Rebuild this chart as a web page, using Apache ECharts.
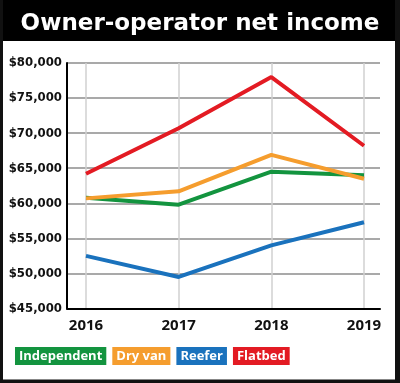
<!DOCTYPE html>
<html><head><meta charset="utf-8">
<script src="https://cdn.jsdelivr.net/npm/echarts@6/dist/echarts.min.js"></script>
<style>html,body{margin:0;padding:0;background:#fff}#c{width:400px;height:383px}</style>
</head><body><div id="c"></div>
<script>
const years = ['2016','2017','2018','2019'];
const independent = [60800, 59800, 64500, 64000];
const dryVan = [60700, 61700, 66900, 63500];
const reefer = [52500, 49500, 54000, 57300];
const flatbed = [64200, 70700, 78000, 68200];
const seriesNames = ['Independent','Dry van','Reefer','Flatbed'];
const colors = ['#13943f','#f59d2e','#1a72bd','#e31b23'];

const chart = echarts.init(document.getElementById('c'));
const lab = "'Liberation Sans Narrow','DejaVu Sans Condensed',sans-serif";
const gTop = 63, gBottom = 74.5;
function mk(name, data, i){
  return {name, type:'line', xAxisIndex:1, yAxisIndex:1, data, symbol:'none',
    lineStyle:{width:4, color:colors[i]}, itemStyle:{color:colors[i]}, z:3};
}
chart.setOption({
  animation:false,
  title:{text:'Owner-operator net income', left:'center', top:8,
    textStyle:{color:'#fff', fontSize:23, fontWeight:'bold', fontFamily:"'DejaVu Sans',sans-serif"}},
  graphic:[
    {type:'rect', shape:{x:0,y:0,width:400,height:41}, style:{fill:'#000'}, z:-1},
    {type:'rect', shape:{x:0,y:0,width:3,height:383}, style:{fill:'#111'}},
    {type:'rect', shape:{x:395,y:0,width:5,height:383}, style:{fill:'#111'}},
    {type:'rect', shape:{x:0,y:379.5,width:400,height:4}, style:{fill:'#111'}}
  ],
  legend:{left:10, top:347, padding:0, itemWidth:0, itemHeight:0, itemGap:1, icon:'rect',
    selectedMode:false,
    textStyle:{color:'#fff', fontWeight:'bold', fontSize:13, lineHeight:13, fontFamily:"'Open Sans',sans-serif", padding:[3,4,2,4]},
    data: seriesNames.map((n,i)=>({name:n, textStyle:{backgroundColor:colors[i]}}))},
  grid:[
    {left:67, right:20, top:gTop, bottom:gBottom},
    {left:86, right:36, top:gTop, bottom:gBottom}
  ],
  xAxis:[
    {type:'value', gridIndex:0, min:0, max:1, axisLine:{show:true, onZero:false, lineStyle:{color:'#000', width:2}},
      axisTick:{show:false}, axisLabel:{show:false}, splitLine:{show:false}},
    {type:'category', gridIndex:1, data:years, boundaryGap:false,
      axisLine:{show:false}, axisTick:{show:false},
      axisLabel:{margin:10, color:'#111', fontWeight:'bold', fontSize:15, fontFamily:"'Noto Sans',sans-serif"},
      splitLine:{show:true, lineStyle:{color:'#d0d0d0', width:1.5}}}
  ],
  yAxis:[
    {type:'value', gridIndex:0, min:45000, max:80000, interval:5000,
      axisLine:{show:true, lineStyle:{color:'#000', width:2}}, axisTick:{show:false},
      axisLabel:{margin:5, color:'#111', fontWeight:'bold', fontSize:13, fontFamily:lab,
        formatter:v=>'$'+v.toLocaleString('en-US')},
      splitLine:{show:true, lineStyle:{color:'#8c8c8c', width:1.5}}},
    {type:'value', gridIndex:1, min:45000, max:80000, interval:5000, show:false, splitLine:{show:false}}
  ],
  series:[mk('Independent', independent,0), mk('Dry van', dryVan,1), mk('Reefer', reefer,2), mk('Flatbed', flatbed,3)]
});
</script></body></html>
